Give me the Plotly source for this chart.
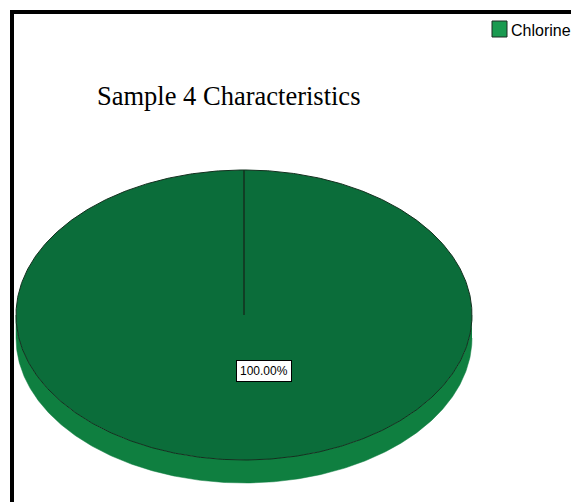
import numpy as np
import plotly.graph_objects as go

# Data
categories = ["Chlorine"]
values = [100.0]
chart_title = "Sample 4 Characteristics"

# Canvas and pie geometry (pixel space)
W, H = 571, 502
CX, CY = 244, 315          # centre of the top face
RX, RY = 228, 145          # radii of the elliptical top face
DEPTH = 23                 # thickness of the pie's rim
TOP_COLORS = ["#0b6d3a"]
SIDE_COLORS = ["#0f7f40"]
KEY_COLORS = ["#1a9a50"]
SANS = "Liberation Sans, Arial, sans-serif"

fig = go.Figure()
total = float(sum(values))


def pt(a_deg, scale=1.0, dy=0.0):
    a = np.radians(a_deg)
    return CX + scale * RX * np.cos(a), CY - scale * RY * np.sin(a) + dy


# slices start at 12 o'clock and run clockwise
start = 90.0
slices = []
for cat, v in zip(categories, values):
    sweep = v / total * 360.0
    slices.append((cat, v, start, start - sweep))
    start -= sweep

# rim (front, lower half only)
for i, (cat, v, a1, a2) in enumerate(slices):
    angs = np.linspace(a1, a2, 721)
    front = angs[np.sin(np.radians(angs)) <= 0]
    if len(front) < 2:
        continue
    xs_t, ys_t = pt(front)
    xs_b, ys_b = pt(front[::-1], dy=DEPTH)
    col = SIDE_COLORS[i % len(SIDE_COLORS)]
    fig.add_trace(go.Scatter(
        x=np.concatenate([xs_t, xs_b]), y=np.concatenate([ys_t, ys_b]),
        fill="toself", fillcolor=col,
        line=dict(color=col, width=0.5), mode="lines",
        hoverinfo="skip", showlegend=False))

# top faces
for i, (cat, v, a1, a2) in enumerate(slices):
    angs = np.linspace(a1, a2, 721)
    ax, ay = pt(angs)
    xs = np.concatenate([[CX], ax, [CX]])
    ys = np.concatenate([[CY], ay, [CY]])
    fig.add_trace(go.Scatter(
        x=xs, y=ys, fill="toself", fillcolor=TOP_COLORS[i % len(TOP_COLORS)],
        line=dict(color="#14301f", width=1), mode="lines",
        name=cat, hoverinfo="name", showlegend=False))

# percentage labels
for i, (cat, v, a1, a2) in enumerate(slices):
    lx, ly = pt((a1 + a2) / 2.0, scale=0.37)
    fig.add_annotation(
        x=lx, y=ly, xshift=20, yshift=-2, text=f"{v / total * 100:.2f}%", showarrow=False,
        font=dict(family=SANS, size=12, color="#000000"),
        bgcolor="#ffffff", bordercolor="#000000", borderwidth=1, borderpad=3)

# key
for i, cat in enumerate(categories):
    y0 = 21 + i * 20
    fig.add_shape(type="rect", x0=492, x1=507, y0=y0, y1=y0 + 16,
                  fillcolor=KEY_COLORS[i % len(KEY_COLORS)],
                  line=dict(color="#1d2b22", width=1))
    fig.add_annotation(x=509, y=y0 + 9, text=cat, showarrow=False,
                       xanchor="left", yanchor="middle",
                       font=dict(family=SANS, size=16, color="#000000"))

# title
fig.add_annotation(x=95, y=96, text=chart_title, showarrow=False,
                   xanchor="left", yanchor="middle",
                   font=dict(family="Liberation Serif, Times New Roman, serif",
                             size=26.5, color="#000000"))

# frame
fig.add_shape(type="line", x0=10, x1=W, y0=12, y1=12, line=dict(color="#000000", width=4))
fig.add_shape(type="line", x0=12, x1=12, y0=10, y1=H, line=dict(color="#000000", width=4))

fig.update_layout(
    width=W, height=H, margin=dict(l=0, r=0, t=0, b=0),
    paper_bgcolor="#ffffff", plot_bgcolor="#ffffff",
    xaxis=dict(range=[0, W], visible=False, fixedrange=True),
    yaxis=dict(range=[H, 0], visible=False, fixedrange=True),
    showlegend=False,
)

fig.write_html("out.html")
